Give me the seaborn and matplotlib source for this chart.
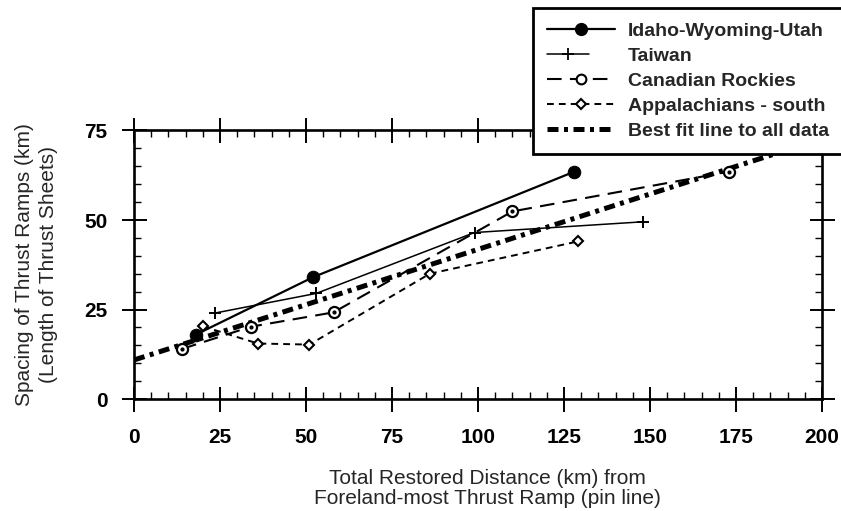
import matplotlib
matplotlib.use("Agg")
import matplotlib.pyplot as plt
import seaborn as sns
import numpy as np
import pandas as pd
from matplotlib.ticker import MultipleLocator
from matplotlib.lines import Line2D
from matplotlib.legend_handler import HandlerLine2D

# ---- data ----
idaho_x = [18, 52, 128]
idaho_y = [18, 34, 63.5]
taiwan_x = [23.5, 53, 99, 148]
taiwan_y = [24, 29.5, 46.5, 49.5]
canada_x = [14, 34, 58, 110, 173]
canada_y = [14, 20.2, 24.2, 52.4, 63.5]
appal_x = [20, 36, 51, 86, 129]
appal_y = [20.3, 15.5, 15.2, 35, 44]
fit_x = [0, 200]
fit_y = [10.9, 72.7]

x_ticks = [0, 25, 50, 75, 100, 125, 150, 175, 200]
y_ticks = [0, 25, 50, 75]
labels = ["Idaho-Wyoming-Utah", "Taiwan", "Canadian Rockies",
          "Appalachians - south", "Best fit line to all data"]

sns.set_style("ticks")
plt.rcParams['font.family'] = ['Liberation Sans', 'DejaVu Sans']

fig = plt.figure(figsize=(8.41, 5.11), dpi=100)
ax = fig.add_axes([134/841, 1-399/511, (822-134)/841, (399-130.5)/511])

fit_ls = (0, (2.2, 1.1, 0.8, 1.1))
canada_ls = (0, (7, 4))
appal_ls = (0, (3.5, 2.6))

sns.lineplot(x=fit_x, y=fit_y, ax=ax, color='black', lw=3.6,
             linestyle=fit_ls, sort=False, estimator=None, zorder=2)
sns.lineplot(x=idaho_x, y=idaho_y, ax=ax, color='black', lw=1.6,
             marker='o', markersize=9, markerfacecolor='black',
             markeredgecolor='black', sort=False, estimator=None, zorder=4)
sns.lineplot(x=taiwan_x, y=taiwan_y, ax=ax, color='black', lw=1.1,
             marker='+', markersize=8, markeredgewidth=1.4,
             markeredgecolor='black',
             sort=False, estimator=None, zorder=3)
sns.lineplot(x=canada_x, y=canada_y, ax=ax, color='black', lw=1.5,
             linestyle=canada_ls, marker='o', markersize=8,
             markerfacecolor='white', markeredgecolor='black',
             markeredgewidth=1.6, sort=False, estimator=None, zorder=5)
ax.plot(canada_x, canada_y, linestyle='none', marker='o', markersize=2,
        color='black', zorder=6)
sns.lineplot(x=appal_x, y=appal_y, ax=ax, color='black', lw=1.4,
             linestyle=appal_ls, marker='D', markersize=5.5,
             markerfacecolor='white', markeredgecolor='black',
             markeredgewidth=1.5, sort=False, estimator=None, zorder=5)

ax.set_xlim(0, 200)
ax.set_ylim(0, 75)
ax.set_xticks(x_ticks)
ax.set_yticks(y_ticks)
ax.xaxis.set_minor_locator(MultipleLocator(5))
ax.yaxis.set_minor_locator(MultipleLocator(5))
for s in ax.spines.values():
    s.set_visible(True)
    s.set_linewidth(1.9)
    s.set_color('black')
ax.tick_params(which='major', direction='inout', length=18, width=1.4,
               top=True, right=True, labelsize=15, pad=10, colors='black')
ax.tick_params(axis='x', which='major', pad=12)
ax.tick_params(which='minor', direction='in', length=5, width=1.0,
               top=True, right=True, colors='black')
for t in ax.get_xticklabels() + ax.get_yticklabels():
    t.set_fontweight('bold')

ax.set_xlabel("Total Restored Distance (km) from\nForeland-most Thrust Ramp (pin line)",
              fontsize=15, fontweight='normal', linespacing=1.1)
ax.xaxis.label.set_va('center')
ax.xaxis.set_label_coords((487-134)/688, (399-488.5)/268.5)
ax.set_ylabel("Spacing of Thrust Ramps (km)\n(Length of Thrust Sheets)",
              fontsize=15, fontweight='normal', linespacing=1.35)
ax.yaxis.label.set_va('center')
ax.yaxis.set_label_coords((36.5-134)/688, 0.5)


class RightMarker(HandlerLine2D):
    def get_xdata(self, legend, xdescent, ydescent, width, height, fontsize):
        xdata = np.array([-xdescent, -xdescent + width * 0.62])
        return xdata, np.array([-xdescent + width * 0.58])


handles = [
    Line2D([], [], color='black', lw=1.6, marker='o', markersize=8.5),
    Line2D([], [], color='black', lw=1.1, marker='+', markersize=8, markeredgewidth=1.3),
    Line2D([], [], color='black', lw=1.5, linestyle=canada_ls, marker='o', markersize=7,
           markerfacecolor='white', markeredgewidth=1.5),
    Line2D([], [], color='black', lw=1.4, linestyle=appal_ls, marker='D', markersize=5,
           markerfacecolor='white', markeredgewidth=1.5),
    Line2D([], [], color='black', lw=3.6, linestyle=fit_ls),
]
leg = fig.legend(handles, labels, loc='upper left',
                 bbox_to_anchor=(533/841, 1-8/511), frameon=True, fancybox=False,
                 framealpha=1, edgecolor='black', fontsize=14, handlelength=3.5,
                 handletextpad=0.67, labelspacing=0.38, borderpad=0.72,
                 borderaxespad=0, handler_map={handles[1]: RightMarker()})
leg.get_frame().set_linewidth(2.0)
leg.set_zorder(10)
for t in leg.get_texts():
    t.set_fontweight('bold')

fig.savefig("out.png", dpi=100)
